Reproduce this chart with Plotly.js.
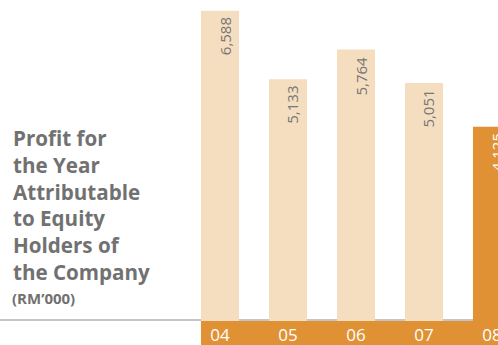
<!DOCTYPE html>
<html>
<head>
<meta charset="utf-8">
<script src="https://cdn.plot.ly/plotly-3.0.1.min.js"></script>
<style>html,body{margin:0;padding:0;background:#fff;}#chart{width:498px;height:345px;}</style>
</head>
<body>
<div id="chart"></div>
<script>
var years = ["04", "05", "06", "07", "08"];
var profit = [6588, 5133, 5764, 5051, 4125];
var titleLines = ["Profit for", "the Year", "Attributable", "to Equity", "Holders of", "the Company"];
var unitLabel = "(RM\u2019000)";

var light = "#f5dec0", orange = "#e09133";
var xs = years.map(function(_, i){ return i; });
var colors = years.map(function(_, i){ return i === years.length - 1 ? orange : light; });
var barW = 0.56;

var annotations = profit.map(function(v, i){
  return {
    x: i, y: v, xref: "x", yref: "y",
    text: v.toLocaleString("en-US"),
    textangle: -90, showarrow: false,
    xanchor: "center", yanchor: "top",
    xshift: 4.5, yshift: -5,
    font: {family: "Open Sans", size: 15, color: i === years.length - 1 ? "#ffffff" : "#777777"}
  };
});
annotations.push({
  xref: "paper", yref: "paper", x: 11/498, y: 1 - 122/321,
  xanchor: "left", yanchor: "top", align: "left", showarrow: false,
  text: titleLines.map(function(s){ return "<b>" + s + "</b>"; }).join("<br>"),
  font: {family: "Open Sans", size: 20.6, color: "#717171"}
});
annotations.push({
  xref: "paper", yref: "paper", x: 10/498, y: 1 - 286/321,
  xanchor: "left", yanchor: "top", align: "left", showarrow: false,
  text: "<b>" + unitLabel + "</b>",
  font: {family: "Open Sans", size: 15, color: "#717171"}
});

var trace = {
  type: "bar", x: xs, y: profit, width: barW,
  marker: {color: colors, line: {width: 0}},
  hoverinfo: "none"
};

var layout = {
  width: 498, height: 345,
  margin: {l: 0, r: 0, t: 0, b: 24, pad: 0},
  paper_bgcolor: "#ffffff", plot_bgcolor: "#ffffff",
  showlegend: false,
  xaxis: {
    range: [-220/68, -220/68 + 498/68],
    tickvals: xs, ticktext: years,
    showgrid: false, zeroline: false, showline: false, ticks: "",
    ticklabeloverflow: "allow", ticklabelstandoff: 2,
    tickfont: {family: "Open Sans", size: 17, color: "#ffffff"},
    fixedrange: true
  },
  yaxis: {
    range: [0, 6815], visible: false, showgrid: false, zeroline: false, fixedrange: true
  },
  shapes: [
    {type: "line", xref: "paper", yref: "paper", x0: 0, x1: 1, y0: 0.003, y1: 0.003,
     line: {color: "#c4c4c4", width: 2}, layer: "below"},
    {type: "rect", xref: "x", yref: "paper", x0: -barW/2, x1: 10, y0: -24/321, y1: 0,
     fillcolor: orange, line: {width: 0}, layer: "below"}
  ],
  annotations: annotations
};

Plotly.newPlot("chart", [trace], layout, {displayModeBar: false, staticPlot: true});
</script>
</body>
</html>
